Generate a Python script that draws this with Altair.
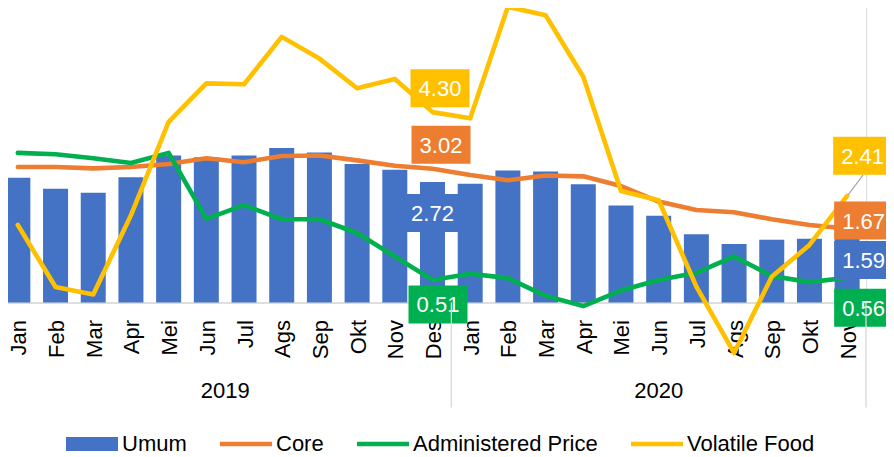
import altair as alt
import pandas as pd

# ---------------- data ----------------
months = ["Jan", "Feb", "Mar", "Apr", "Mei", "Jun", "Jul", "Ags", "Sep", "Okt", "Nov", "Des"]
years = ["2019", "2020"]
periods = [f"{m} 2019" for m in months] + [f"{m} 2020" for m in months[:11]]

series_names = ["Umum", "Core", "Administered Price", "Volatile Food"]
series_colors = ["#4472C4", "#ED7D31", "#00B050", "#FFC000"]

umum = [2.82, 2.57, 2.48, 2.83, 3.32, 3.28, 3.32, 3.49, 3.39, 3.13, 3.00, 2.72,
        2.68, 2.98, 2.96, 2.67, 2.19, 1.96, 1.54, 1.32, 1.42, 1.44, 1.59]
core = [3.06, 3.06, 3.03, 3.06, 3.13, 3.26, 3.17, 3.31, 3.32, 3.21, 3.09, 3.02,
        2.88, 2.76, 2.87, 2.85, 2.63, 2.28, 2.09, 2.04, 1.88, 1.75, 1.67]
admin = [3.38, 3.35, 3.26, 3.15, 3.38, 1.89, 2.20, 1.88, 1.88, 1.57, 1.04, 0.51,
         0.65, 0.55, 0.15, -0.08, 0.27, 0.51, 0.67, 1.04, 0.60, 0.46, 0.56]
volatile = [1.75, 0.35, 0.18, 1.97, 4.08, 4.95, 4.93, 6.00, 5.51, 4.84, 5.05, 4.30,
            4.16, 6.68, 6.49, 5.10, 2.52, 2.31, 0.36, -1.14, 0.58, 1.30, 2.41]

values = {"Umum": umum, "Core": core, "Administered Price": admin, "Volatile Food": volatile}
df = pd.DataFrame([
    {"period": p, "series": s, "value": v}
    for s in series_names for p, v in zip(periods, values[s])
])
year_df = pd.DataFrame({"year": years, "period": ["Jun 2019", "Jun 2020"]})
sep_df = pd.DataFrame({"period": ["Des 2019", "Nov 2020"]})

# ---------------- style ----------------
FONT = "Liberation Sans"
W, H = 867, 302.5
YMAX = 6.833
PAD_INNER = 0.337
GAP_HALF = (W / len(periods)) * PAD_INNER / 2   # half the gap between two bars, px
color_of = dict(zip(series_names, series_colors))

x_axis = alt.Axis(title=None, labelAngle=-90, labelExpr="split(datum.label, ' ')[0]",
                  labelFont=FONT, labelFontSize=22, labelColor="#000000", labelPadding=17,
                  labelOffset=1.5, ticks=False, tickSize=0, domainColor="#D9D9D9",
                  domainWidth=1.3, labelOverlap=False, grid=False)
x_scale = alt.Scale(paddingInner=PAD_INNER, paddingOuter=PAD_INNER / 2)
y_scale = alt.Scale(domain=[0, YMAX], nice=False, zero=False)


def X(band=None):
    if band is None:
        return alt.X("period:N", sort=periods, scale=x_scale, axis=x_axis)
    return alt.X("period:N", sort=periods, scale=x_scale, axis=x_axis, bandPosition=band)


Y = alt.Y("value:Q", scale=y_scale, axis=None)

base = alt.Chart(df)

bars = base.transform_filter(alt.datum.series == "Umum").mark_bar(
    color=color_of["Umum"]).encode(x=X(), y=Y)

lines = []
for s in ["Core", "Administered Price", "Volatile Food"]:
    lines.append(base.transform_filter(alt.datum.series == s).mark_line(
        color=color_of[s], strokeWidth=4.6, strokeJoin="round", strokeCap="round"
    ).encode(x=X(), y=Y))

# legend (drawn by Vega from an invisible point layer)
rect_path = "M-1,-0.27L1,-0.27L1,0.27L-1,0.27Z"
line_path = "M-1,-0.09L1,-0.09L1,0.09L-1,0.09Z"
legend_kw = dict(title=None, orient="none", legendX=67, legendY=418, direction="horizontal",
                 symbolSize=2704, symbolStrokeWidth=0, labelFont=FONT, labelFontSize=22,
                 labelColor="#000000", labelOffset=4, columnPadding=33, labelLimit=400)
legend_layer = base.mark_point(filled=True, size=0, opacity=1).encode(
    x=X(), y=Y,
    color=alt.Color("series:N", sort=series_names,
                    scale=alt.Scale(domain=series_names, range=series_colors),
                    legend=alt.Legend(**legend_kw)),
    shape=alt.Shape("series:N", sort=series_names,
                    scale=alt.Scale(domain=series_names,
                                    range=[rect_path, line_path, line_path, line_path]),
                    legend=alt.Legend(**legend_kw)),
)

# value labels
box_path = "M-1,-0.644L1,-0.644L1,0.644L-1,0.644Z"


def value_label(series, period, dx, dy):
    src = base.transform_filter((alt.datum.series == series) & (alt.datum.period == period))
    box = src.mark_point(shape=box_path, size=3481, filled=True, opacity=1,
                         color=color_of[series], strokeWidth=0,
                         xOffset=dx, yOffset=dy).encode(x=X(), y=Y)
    txt = src.mark_text(font=FONT, fontSize=22, color="white", align="center",
                        baseline="middle", xOffset=dx, yOffset=dy + 1).encode(
        x=X(), y=Y, text=alt.Text("value:Q", format=".2f"))
    return [box, txt]


leader = base.transform_filter(
    (alt.datum.series == "Volatile Food") & (alt.datum.period == "Nov 2020")
).mark_point(shape="M0,0L0.75,-1", size=1600, filled=False, opacity=1,
             stroke="#A6A6A6", strokeWidth=1.2, xOffset=1, yOffset=-1).encode(x=X(), y=Y)

labels = []
labels += value_label("Volatile Food", "Des 2019", 7.5, -24)
labels += value_label("Core", "Des 2019", 8.5, -24)
labels += value_label("Umum", "Des 2019", 0, 31)
labels += value_label("Administered Price", "Des 2019", 5.5, 24.5)
labels += value_label("Volatile Food", "Nov 2020", 15.5, -40)
labels += value_label("Core", "Nov 2020", 16.5, -8)
labels += value_label("Umum", "Nov 2020", 16.5, 28)
labels += value_label("Administered Price", "Nov 2020", 16.5, 30)

# year group labels and separators below the axis
year_text = [
    alt.Chart(year_df).transform_filter(alt.datum.year == "2019").mark_text(
        font=FONT, fontSize=22, color="#000000", align="center", baseline="middle",
        xOffset=GAP_HALF
    ).encode(x=X(1), y=alt.value(H + 88), text="year:N"),
    alt.Chart(year_df).transform_filter(alt.datum.year == "2020").mark_text(
        font=FONT, fontSize=22, color="#000000", align="center", baseline="middle"
    ).encode(x=X(0.5), y=alt.value(H + 88), text="year:N"),
]

separators = alt.Chart(sep_df).mark_rule(
    color="#D9D9D9", strokeWidth=1.3, xOffset=GAP_HALF
).encode(x=X(1), y=alt.value(H), y2=alt.value(H + 105))

chart = alt.layer(
    bars, *lines, leader, *labels, legend_layer, *year_text, separators
).properties(
    width=W, height=H,
    autosize=alt.AutoSizeParams(type="none"),
    padding={"left": -9, "top": -8, "right": 20, "bottom": 154.5},
).configure_view(stroke=None).configure(background="white")

chart.save("out.html", embed_options={"renderer": "svg", "actions": False})
